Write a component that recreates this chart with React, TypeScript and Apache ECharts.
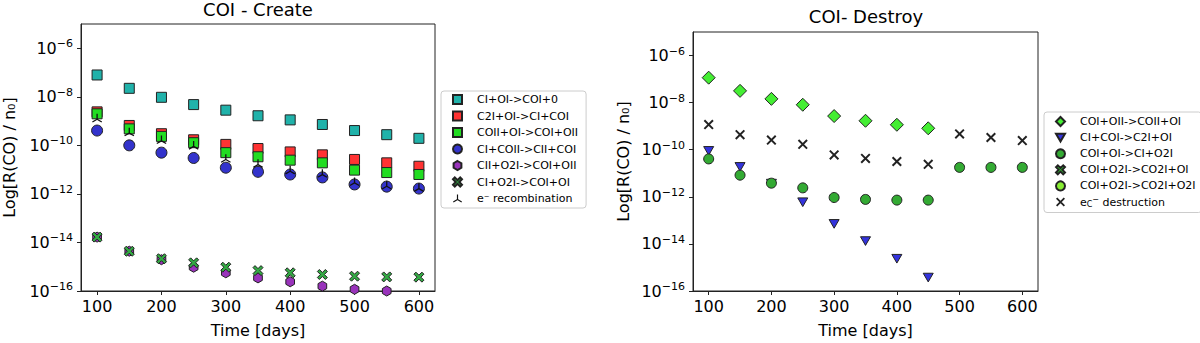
import React, { useEffect, useRef } from 'react';
import * as echarts from 'echarts';

const DAYS = [100, 150, 200, 250, 300, 350, 400, 450, 500, 550, 600];
const X_TICKS = [100, 200, 300, 400, 500, 600];
const Y_TICKS = [1e-16, 1e-14, 1e-12, 1e-10, 1e-8, 1e-6];

// values, as log10(R(CO)/n0)
const CREATE_CI_OI = [-7.10, -7.65, -8.02, -8.32, -8.55, -8.78, -8.95, -9.14, -9.39, -9.56, -9.71];
const CREATE_C2I_OI = [-8.62, -9.18, -9.52, -9.77, -9.96, -10.13, -10.27, -10.39, -10.58, -10.72, -10.86];
const CREATE_COII_OI = [-8.70, -9.32, -9.63, -9.89, -10.30, -10.47, -10.61, -10.72, -11.02, -11.12, -11.20];
const CREATE_CI_COII = [-9.39, -10.00, -10.30, -10.52, -10.92, -11.09, -11.20, -11.32, -11.61, -11.70, -11.78];
const CREATE_CII_O2I = [-13.78, -14.36, -14.71, -15.02, -15.25, -15.46, -15.62, -15.80, -15.93, -16.0, null];
const CREATE_CI_O2I = [-13.78, -14.36, -14.67, -14.84, -15.02, -15.16, -15.25, -15.32, -15.39, -15.42, -15.43];
const CREATE_E_RECOMB = [-8.88, -9.45, -9.77, -10.00, -10.54, -10.75, -11.02, -11.16, -11.50, -11.64, -11.74];

const DESTROY_COI_OII = [-6.94, -7.50, -7.84, -8.09, -8.57, -8.77, -8.94, -9.09, null, null, null];
const DESTROY_CI_COI = [-10.05, -10.73, -11.44, -12.23, -13.15, -13.88, -14.63, -15.43, null, null, null];
const DESTROY_COI_OI = [-10.39, -11.08, -11.42, -11.62, -12.03, -12.11, -12.14, -12.14, -10.75, -10.75, -10.75];
const DESTROY_COI_O2I_OI: (number | null)[] = [null, null, null, null, null, null, null, null, null, null, null];
const DESTROY_COI_O2I_O2I: (number | null)[] = [null, null, null, null, null, null, null, null, null, null, null];
const DESTROY_E_C = [-8.93, -9.36, -9.59, -9.77, -10.22, -10.37, -10.50, -10.62, -9.33, -9.48, -9.61];

const FONT = 'DejaVu Sans';

const HEX = 'path://M0,-1 L0.866,-0.5 L0.866,0.5 L0,1 L-0.866,0.5 L-0.866,-0.5 Z';
const FAT_X = 'path://M-1,-0.6 L-0.6,-1 L0,-0.4 L0.6,-1 L1,-0.6 L0.4,0 L1,0.6 L0.6,1 L0,0.4 L-0.6,1 L-1,0.6 L-0.4,0 Z';
const TRI_UP = 'path://M-0.12,-1 L0.12,-1 L0.12,0 L-0.12,0 Z M0.06,0.104 L-0.806,0.604 L-0.926,0.396 L-0.06,-0.104 Z M0.06,-0.104 L0.926,0.396 L0.806,0.604 L-0.06,0.104 Z';
const THIN_X = 'path://M-1,-0.72 L-0.72,-1 L1,0.72 L0.72,1 Z M0.72,-1 L1,-0.72 L-0.72,1 L-1,0.72 Z';
const TRI_DOWN = 'path://M-1,-0.866 L1,-0.866 L0,0.866 Z';

const toData = (vals: (number | null)[]) =>
  DAYS.map((d, i) => (vals[i] === null ? null : [d, Math.pow(10, vals[i] as number)])).filter((p) => p !== null);

const E_C_NAME = 'e_C⁻ destruction';

export default function App() {
  const ref = useRef<HTMLDivElement>(null);
  useEffect(() => {
    if (!ref.current) return;
    const chart = echarts.init(ref.current, undefined, { renderer: 'svg' });

    const xAxisBase = (gridIndex: number) => ({
      gridIndex,
      type: 'value',
      min: 75,
      max: 625,
      name: 'Time [days]',
      nameLocation: 'middle',
      nameGap: 31,
      nameTextStyle: { fontFamily: FONT, fontSize: 16, color: '#000' },
      axisLine: { show: true, lineStyle: { color: '#222', width: 1 } },
      axisTick: { show: true, customValues: X_TICKS, length: 4, lineStyle: { color: '#222' } },
      axisLabel: { customValues: X_TICKS, fontFamily: FONT, fontSize: 16, color: '#000', margin: 7 },
      splitLine: { show: false },
    });
    const yAxisBase = (gridIndex: number, gap: number) => ({
      gridIndex,
      type: 'log',
      logBase: 10,
      min: 1e-16,
      max: 1e-5,
      name: 'Log[R(CO) / n₀]',
      nameLocation: 'middle',
      nameGap: gap,
      nameTextStyle: { fontFamily: FONT, fontSize: 16, color: '#000' },
      axisLine: { show: true, lineStyle: { color: '#222', width: 1 } },
      axisTick: { show: true, customValues: Y_TICKS, length: 4, lineStyle: { color: '#222' } },
      axisLabel: {
        customValues: Y_TICKS,
        margin: 8,
        formatter: (v: number) => `{b|10}{s|−${Math.abs(Math.round(Math.log10(v)))}}`,
        rich: {
          b: { fontFamily: FONT, fontSize: 16, color: '#000', lineHeight: 20 },
          s: { fontFamily: FONT, fontSize: 11, color: '#000', verticalAlign: 'top', lineHeight: 12 },
        },
      },
      splitLine: { show: false },
    });

    const sc = (name: string, vals: (number | null)[], idx: number, symbol: string, size: number, color: string, extra: any = {}) => ({
      type: 'scatter',
      name,
      xAxisIndex: idx,
      yAxisIndex: idx,
      data: toData(vals),
      symbol,
      symbolSize: size,
      symbolKeepAspect: true,
      clip: true,
      itemStyle: { color, borderColor: '#222', borderWidth: 1, opacity: 1 },
      ...extra,
    });

    const legendText = {
      fontFamily: FONT,
      fontSize: 11,
      color: '#000',
      lineHeight: 13,
      padding: [0, 0, 0, 9],
    };

    chart.setOption({
      animation: false,
      backgroundColor: '#fff',
      graphic: [
        { type: 'text', x: 258, y: 9, style: { text: 'COI - Create', font: `18px "${FONT}"`, fill: '#000', textAlign: 'center', textVerticalAlign: 'middle' } },
        { type: 'text', x: 866, y: 16, style: { text: 'COI- Destroy', font: `18px "${FONT}"`, fill: '#000', textAlign: 'center', textVerticalAlign: 'middle' } },
      ],
      grid: [
        { left: 81, top: 24, width: 354, height: 269, show: true, borderColor: '#222', borderWidth: 1, backgroundColor: 'transparent' },
        { left: 693, top: 32, width: 345, height: 262, show: true, borderColor: '#222', borderWidth: 1, backgroundColor: 'transparent' },
      ],
      xAxis: [xAxisBase(0), xAxisBase(1)],
      yAxis: [yAxisBase(0, 64), yAxisBase(1, 62)],
      legend: [
        {
          left: 441,
          top: 91,
          orient: 'vertical',
          itemWidth: 9,
          itemHeight: 9,
          itemGap: 3.5,
          padding: [2, 8, 3, 11],
          backgroundColor: '#fff',
          borderColor: '#ccc',
          borderWidth: 1,
          borderRadius: 3,
          selectedMode: false,
          textStyle: { ...legendText, padding: [0, 0, 0, 10] },
          data: ['CI+OI->COI+0', 'C2I+OI->CI+COI', 'COII+OI->COI+OII', 'CI+COII->CII+COI', 'CII+O2I->COI+OII', 'CI+O2I->COI+OI', 'e⁻ recombination'],
        },
        {
          left: 1044,
          top: 112,
          orient: 'vertical',
          itemWidth: 9,
          itemHeight: 9,
          itemGap: 3.1,
          padding: [3, 6, 4, 11],
          backgroundColor: '#fff',
          borderColor: '#ccc',
          borderWidth: 1,
          borderRadius: 3,
          selectedMode: false,
          textStyle: {
            ...legendText,
            padding: [0, 0, 0, 10],
            rich: {
              n: { fontFamily: FONT, fontSize: 11, color: '#000', lineHeight: 13 },
              sub: { fontFamily: FONT, fontSize: 8, color: '#000', verticalAlign: 'bottom', lineHeight: 8 },
              sup: { fontFamily: FONT, fontSize: 8, color: '#000', verticalAlign: 'top', lineHeight: 8 },
            },
          },
          formatter: (name: string) => (name === E_C_NAME ? '{n|e}{sub|C}{sup|−}{n| destruction}' : `{n|${name}}`),
          data: ['COI+OII->COII+OI', 'CI+COI->C2I+OI', 'COI+OI->CI+O2I', 'COI+O2I->CO2I+OI', 'COI+O2I->CO2I+O2I', E_C_NAME],
        },
      ],
      series: [
        sc('CI+OI->COI+0', CREATE_CI_OI, 0, 'rect', 10, '#20b2aa'),
        sc('C2I+OI->CI+COI', CREATE_C2I_OI, 0, 'rect', 10, '#ff3333'),
        sc('COII+OI->COI+OII', CREATE_COII_OI, 0, 'rect', 10, '#22dd22'),
        sc('CI+COII->CII+COI', CREATE_CI_COII, 0, 'circle', 11, '#3333cc'),
        sc('CII+O2I->COI+OII', CREATE_CII_O2I, 0, HEX, 10, '#9933bb'),
        sc('CI+O2I->COI+OI', CREATE_CI_O2I, 0, FAT_X, 10, '#33aa44'),
        sc('e⁻ recombination', CREATE_E_RECOMB, 0, TRI_UP, 10, '#111', { itemStyle: { color: '#111', borderWidth: 0, opacity: 1 } }),
        sc('COI+OII->COII+OI', DESTROY_COI_OII, 1, 'diamond', 13, '#44ee33'),
        sc('CI+COI->C2I+OI', DESTROY_CI_COI, 1, TRI_DOWN, 10, '#3333dd'),
        sc('COI+OI->CI+O2I', DESTROY_COI_OI, 1, 'circle', 10, '#33aa33'),
        sc('COI+O2I->CO2I+OI', DESTROY_COI_O2I_OI, 1, FAT_X, 9, '#33dd33'),
        sc('COI+O2I->CO2I+O2I', DESTROY_COI_O2I_O2I, 1, 'circle', 10, '#88ee33'),
        sc(E_C_NAME, DESTROY_E_C, 1, THIN_X, 10, '#222', { itemStyle: { color: '#222', borderWidth: 0, opacity: 1 } }),
      ],
    });
    return () => chart.dispose();
  }, []);
  return <div ref={ref} style={{ position: 'fixed', left: 0, top: 0, width: 1200, height: 343 }} />;
}
